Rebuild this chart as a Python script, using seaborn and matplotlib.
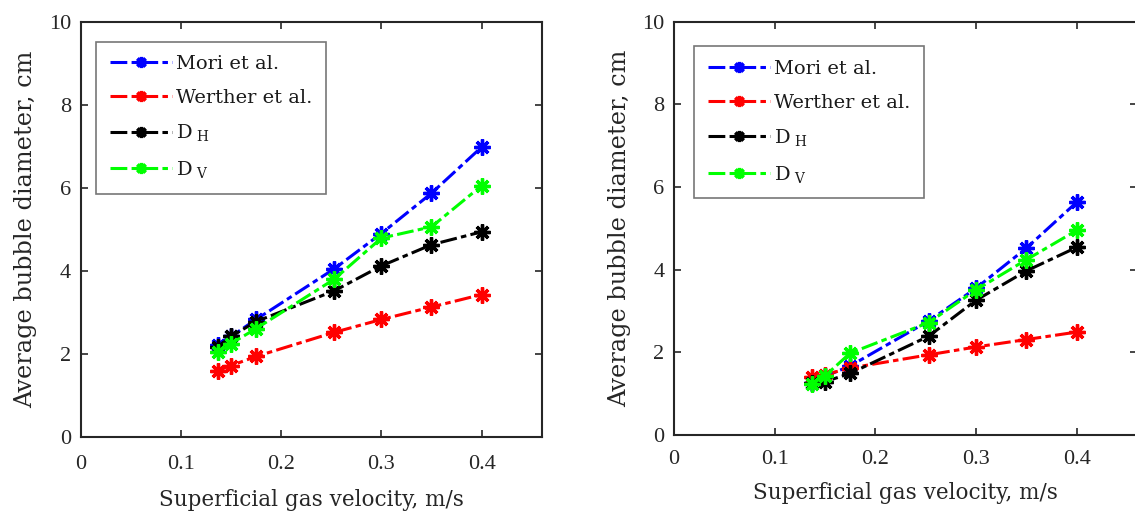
import matplotlib
matplotlib.use("Agg")
import matplotlib.pyplot as plt
import seaborn as sns
import numpy as np

velocity = [0.137, 0.150, 0.175, 0.253, 0.300, 0.350, 0.400]

left_mori     = [2.21, 2.42, 2.83, 4.05, 4.90, 5.87, 6.98]
left_werther  = [1.60, 1.72, 1.94, 2.52, 2.83, 3.13, 3.43]
left_dh       = [2.17, 2.42, 2.78, 3.52, 4.12, 4.63, 4.94]
left_dv       = [2.04, 2.25, 2.61, 3.80, 4.79, 5.06, 6.05]

right_mori    = [1.27, 1.42, 1.67, 2.76, 3.55, 4.52, 5.63]
right_werther = [1.40, 1.46, 1.62, 1.94, 2.13, 2.31, 2.49]
right_dh      = [1.27, 1.29, 1.49, 2.39, 3.26, 3.97, 4.54]
right_dv      = [1.24, 1.43, 1.98, 2.72, 3.51, 4.24, 4.95]

labels = ["Mori et al.", "Werther et al.", r"$\mathregular{D_{\ H}}$", r"$\mathregular{D_{\ V}}$"]
colors = ["#0000ff", "#ff0000", "#000000", "#00ff00"]
x_ticks = [0, 0.1, 0.2, 0.3, 0.4]
x_tick_labels = ["0", "0.1", "0.2", "0.3", "0.4"]
y_ticks = [0, 2, 4, 6, 8, 10]
xlabel = "Superficial gas velocity, m/s"
ylabel = "Average bubble diameter, cm"

sns.set_style("ticks")
plt.rcParams["font.family"] = ["Liberation Serif", "DejaVu Serif"]
plt.rcParams["mathtext.fontset"] = "custom"
plt.rcParams["mathtext.rm"] = "DejaVu Serif"

W, H = 1135, 515
fig = plt.figure(figsize=(W / 100, H / 100), dpi=100)

def px_axes(x0, x1, ytop, ybot):
    return fig.add_axes([x0 / W, (H - ybot) / H, (x1 - x0) / W, (ybot - ytop) / H])

ax1 = px_axes(80.7, 541.7, 21.7, 437.0)
ax2 = px_axes(674.0, 1137.0, 21.7, 435.0)

panels = [
    (ax1, [left_mori, left_werther, left_dh, left_dv], (0.034, 0.952), 13, 11),
    (ax2, [right_mori, right_werther, right_dh, right_dv], (0.043, 0.940), 11, 9),
]

ls = (0, (5.5, 1.4, 1.8, 1.4))
for ax, series, legpos, xpad, xlpad in panels:
    for vals, lab, col in zip(series, labels, colors):
        sns.lineplot(x=velocity, y=vals, ax=ax, color=col, label=lab,
                     marker=(8, 2, 0), markersize=11.5, markeredgewidth=2.4,
                     markeredgecolor=col, linewidth=2.2, linestyle=ls, sort=False)
    ax.set_xlim(0, 0.46)
    ax.set_ylim(0, 10)
    ax.tick_params(direction="in", top=True, right=True, length=5, width=1.2,
                   colors="#262626")
    ax.tick_params(axis="x", pad=xpad)
    ax.tick_params(axis="y", pad=7)
    ax.set_xticks(x_ticks)
    ax.set_xticklabels(x_tick_labels, fontfamily="Liberation Serif", fontsize=16)
    ax.set_yticks(y_ticks)
    ax.set_yticklabels([str(v) for v in y_ticks], fontfamily="Liberation Serif", fontsize=16)
    for sp in ax.spines.values():
        sp.set_visible(True)
        sp.set_linewidth(1.5)
        sp.set_color("#262626")
    ax.set_xlabel(xlabel, fontsize=15.5, fontfamily="DejaVu Serif",
                  color="#262626", labelpad=xlpad)
    ax.set_ylabel(ylabel, fontsize=17.3, fontfamily="DejaVu Serif",
                  color="#262626", labelpad=8)
    leg = ax.legend(loc="upper left", bbox_to_anchor=legpos,
                    prop={"family": "DejaVu Serif", "size": 14},
                    frameon=True, fancybox=False, edgecolor="#555555",
                    handlelength=3.2, handletextpad=0.2, borderpad=0.7,
                    labelspacing=0.8, borderaxespad=0)
    leg.get_frame().set_linewidth(1.2)
    for t in leg.get_texts():
        t.set_color("#1a1a1a")
    for h in leg.legend_handles:
        h.set_markersize(8)

fig.savefig("out.png", dpi=100)
